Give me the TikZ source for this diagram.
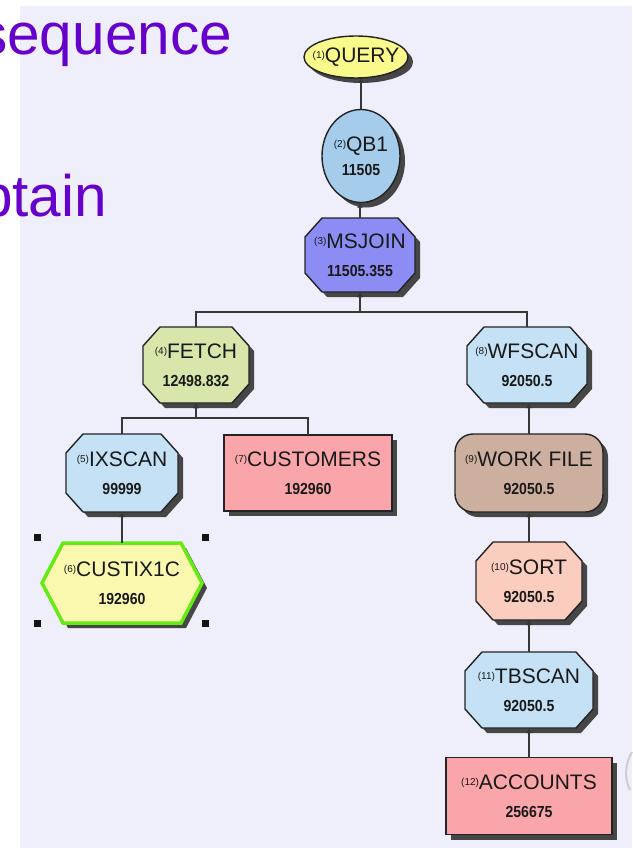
\documentclass[tikz,border=0pt]{standalone}
\usepackage{fontspec}
\setmainfont{Liberation Sans}
\newfontfamily\numfam{Liberation Sans}[FakeStretch=0.88]
\usetikzlibrary{arrows.meta,shapes.geometric,shadows}

\definecolor{panelc}{RGB}{239,238,251}
\definecolor{slidepurple}{RGB}{102,0,204}
\definecolor{linec}{RGB}{35,35,35}
\definecolor{connc}{RGB}{55,55,55}
\definecolor{shadowc}{RGB}{70,70,70}
\definecolor{txtc}{RGB}{25,25,25}
\definecolor{queryc}{RGB}{250,250,140}
\definecolor{qbc}{RGB}{165,205,235}
\definecolor{joinc}{RGB}{140,140,245}
\definecolor{fetchc}{RGB}{215,230,170}
\definecolor{scanc}{RGB}{197,225,245}
\definecolor{tablec}{RGB}{250,165,170}
\definecolor{workc}{RGB}{205,175,160}
\definecolor{sortc}{RGB}{250,205,190}
\definecolor{indexc}{RGB}{250,248,175}
\definecolor{selc}{RGB}{100,235,20}
\definecolor{handlec}{RGB}{20,20,20}
\definecolor{arcc}{RGB}{205,205,205}

% operator number, operator name and estimated cost
\newcommand{\opid}[1]{\raisebox{4pt}{\fontsize{10}{10}\selectfont(#1)}}
\newcommand{\oplabel}[2]{{\fontsize{21}{21}\selectfont\opid{#1}#2}}
\newcommand{\opcost}[1]{{\numfam\bfseries\fontsize{16}{16}\selectfont #1}}

% octagon outline around the origin: half width, half height
\newcommand{\octpath}[2]{(-#1+17,-#2) -- (#1-17,-#2) -- (#1,-#2+19) -- (#1,#2-19) -- (#1-17,#2) -- (-#1+17,#2) -- (-#1,#2-19) -- (-#1,-#2+19) -- cycle}

% octagonal operator: name, centre, half width, half height, fill, text
\newcommand{\opoct}[6]{%
  \fill[shadowc, shift={(#2)}, shift={(5,5)}] \octpath{#3}{#4};
  \filldraw[opline, fill=#5, shift={(#2)}] \octpath{#3}{#4};
  \node[optext, minimum width=2*#3, minimum height=2*#4] (#1) at (#2) {#6};
}

\tikzset{
  optext/.style={rectangle, inner sep=0pt, outer sep=0pt, align=center,
    text=txtc, font=\fontsize{21}{28}\selectfont},
  opline/.style={draw=linec, line width=1.4pt},
  boxshadow/.style={drop shadow={shadow xshift=5pt, shadow yshift=-5pt,
    fill=shadowc, opacity=1}},
  conn/.style={draw=connc, line width=1.4pt, -{Latex[length=5pt,width=6pt]}},
  bigtext/.style={anchor=base west, inner sep=0pt, text=slidepurple,
    font=\fontsize{58.5}{58.5}\selectfont},
}

\begin{document}
\begin{tikzpicture}[x=1pt, y=-1pt]
\useasboundingbox (0,0) rectangle (632,848);
\fill[panelc] (20,6) rectangle (632,848);

% slide text behind the plan
\node[bigtext] (word1) at (-22,55) {sequence};
\node[bigtext] (word2) at (-20,216) {btain};

% access plan graph
\node[optext, ellipse, opline, fill=queryc, boxshadow, minimum width=104,
  minimum height=42] (query) at (356,57) {\makebox[0pt]{\oplabel{1}{QUERY}}};
\node[optext, ellipse, opline, fill=qbc, boxshadow, minimum width=78,
  minimum height=93, font=\fontsize{21}{24}\selectfont] (qb1) at (361,156)
  {\makebox[0pt]{\oplabel{2}{QB1}}\\\makebox[0pt]{\opcost{11505}}};

\opoct{msjoin}{360,255}{55}{37}{joinc}{\oplabel{3}{MSJOIN}\\\opcost{11505.355}}
\opoct{fetch}{196,365}{53}{38}{fetchc}{\oplabel{4}{FETCH}\\\opcost{12498.832}}
\opoct{wfscan}{527,365}{60}{38}{scanc}{\oplabel{8}{WFSCAN}\\\opcost{92050.5}}
\opoct{ixscan}{122,473}{56}{39}{scanc}{\oplabel{5}{IXSCAN}\\\opcost{99999}}

\node[optext, opline, fill=tablec, boxshadow, minimum width=168,
  minimum height=76] (customers) at (308,473)
  {\oplabel{7}{CUSTOMERS}\\\opcost{192960}};
\node[optext, opline, fill=workc, boxshadow, rounded corners=18pt,
  minimum width=148, minimum height=78] (workfile) at (529,473)
  {\oplabel{9}{WORK FILE}\\\opcost{92050.5}};

% selected index node (hexagon with handles)
\fill[shadowc, shift={(122,583)}, shift={(5,5)}]
  (-59,-40) -- (59,-40) -- (80,0) -- (59,40) -- (-59,40) -- (-80,0) -- cycle;
\filldraw[draw=selc, line width=3.5pt, fill=indexc, shift={(122,583)}]
  (-59,-40) -- (59,-40) -- (80,0) -- (59,40) -- (-59,40) -- (-80,0) -- cycle;
\node[optext, minimum width=160, minimum height=80] (custix) at (122,583)
  {\oplabel{6}{CUSTIX1C}\\\opcost{192960}};
\foreach \hx/\hy in {37/537, 205/537, 37/623, 205/623}
  \fill[handlec] (\hx-3.5,\hy-3.5) rectangle (\hx+3.5,\hy+3.5);

\opoct{sort}{529,581}{53}{39}{sortc}{\oplabel{10}{SORT}\\\opcost{92050.5}}
\opoct{tbscan}{529,690}{64}{38}{scanc}{\oplabel{11}{TBSCAN}\\\opcost{92050.5}}
\node[optext, opline, fill=tablec, boxshadow, minimum width=166,
  minimum height=77] (accounts) at (529,796)
  {\oplabel{12}{ACCOUNTS}\\\opcost{256675}};

% connectors, child to parent
\path (msjoin.south) ++(0,20) coordinate (mbar);
\path (fetch.south) ++(0,15) coordinate (fbar);
\draw[conn] (qb1.north) -- (qb1.north |- query.south);
\draw[conn] (msjoin.north) -- (msjoin.north |- qb1.south);
\draw[conn] (fetch.north) |- (mbar) -- (msjoin.south);
\draw[conn] (wfscan.north) |- (mbar) -- (msjoin.south);
\draw[conn] (ixscan.north) |- (fbar) -- (fetch.south);
\draw[conn] (customers.north) |- (fbar) -- (fetch.south);
\draw[conn] (custix.north) -- (custix.north |- ixscan.south);
\draw[conn] (workfile.north) -- (workfile.north |- wfscan.south);
\draw[conn] (sort.north) -- (sort.north |- workfile.south);
\draw[conn] (tbscan.north) -- (tbscan.north |- sort.south);
\draw[conn] (accounts.north) -- (accounts.north |- tbscan.south);

% faint arc at the right edge
\draw[arcc, line width=2pt] (630,790) .. controls (624,778) and (625,764) .. (632,752);
\end{tikzpicture}
\end{document}
